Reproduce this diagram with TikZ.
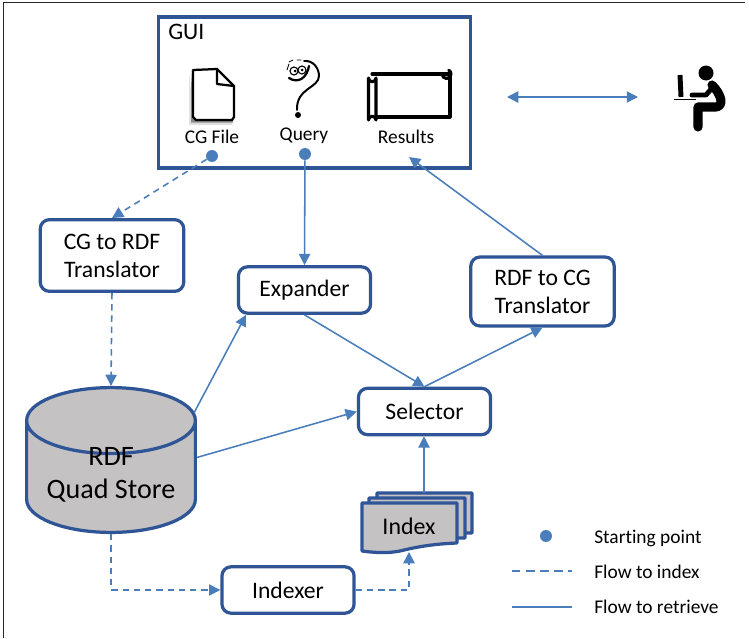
\documentclass[tikz,border=0pt]{standalone}
\usepackage{fontspec}
\setmainfont[Ligatures=NoCommon]{Carlito}
\usetikzlibrary{arrows.meta,shapes.geometric}
\definecolor{boxline}{HTML}{2F5597}
\definecolor{flowline}{HTML}{4A7EBB}
\definecolor{storefill}{HTML}{C4C2C2}
\begin{document}
\begin{tikzpicture}
[x=0.025cm,y=-0.025cm,
module/.style={rectangle,rounded corners=6.5pt,draw=boxline,line width=2.3pt,fill=white,inner sep=0pt,align=center,font=\fontsize{16.8}{20}\selectfont},
label/.style={draw=none,inner sep=0pt,font=\fontsize{13.8}{16}\selectfont},
legend/.style={draw=none,inner sep=0pt,anchor=west,font=\fontsize{13.8}{16}\selectfont},
classical/.style={flowline,line width=1.1pt,-{Triangle[length=8pt,width=8pt]}},
classicaldash/.style={classical,dash pattern=on 4.5pt off 3.5pt},
startdot/.style={circle,fill=flowline,draw=none,minimum size=8.5pt,inner sep=0pt},
sheet/.style={draw=boxline,line width=2.3pt,line join=round,fill=storefill},
icon/.style={black,line width=1.6pt,line cap=round,line join=round}]
\useasboundingbox (0,0) rectangle (749,638);
\fill[white] (0,0) rectangle (749,638);
\draw[black!85,line width=1pt] (3.5,638) -- (3.5,2.5) -- (745,2.5);

% first row
\node[draw=boxline,line width=2.6pt,fill=white,minimum width=222pt,minimum height=107pt,inner sep=0pt] (gui) at (314.5,92.5) {};
\node[draw=none,inner sep=0pt,anchor=west,font=\fontsize{16.8}{20}\selectfont] (guititle) at (168,31.5) {GUI};

% file icon
\fill[black!12] (189,72) -- (189,125) -- (232,125) -- (232,120) -- (194,120) -- cycle;
\fill[black!45] (191,70) -- (191,122.5) -- (233,122.5) -- (233,119) -- (194,119) -- cycle;
\draw[icon,fill=white] (193,70) -- (217,69) -- (234,86) -- (234,117) -- (232,120) -- (196,120) -- (193,117) -- cycle;
\draw[icon] (217,69) -- (217,84) -- (234,86);

% question icon
\draw[icon] (289,78) .. controls (298,84) and (307,78) .. (309,66);
\draw[icon,line width=1.4pt] (304,61) .. controls (313,60) and (319,68) .. (319,76) .. controls (319,88) and (296,88) .. (297,110);
\draw[icon,line width=.8pt,fill=white] (294,71) circle (4) (302,70) circle (4);
\fill[black] (295,71) circle (1.5) (302,70) circle (1.5) (298,115) circle (3);
\draw[icon,line width=.6pt] (289,62) -- (293,60) (297,60) -- (301,60) (287,70) -- (289,64);

% results icon
\draw[icon,line width=2.2pt,fill=white] (372,74) -- (450,74) -- (450,117) -- (376,117);
\draw[icon,line width=2.2pt] (442,74) arc (180:-60:4.5);
\draw[icon,line width=2.2pt,fill=white] (368.5,78) arc (180:0:3.75) -- (376,120) arc (0:-180:3.75) -- cycle;

% person icon
\fill[black] (706,73) circle (7.5);
\draw[black,line width=6.5pt,line cap=round,line join=round] (712,85) .. controls (722,95) and (724,106) .. (716,107) -- (698,107) -- (698,127);
\draw[black,line width=3.5pt,line cap=round,line join=round] (712,88) -- (706,95) -- (692,95);
\draw[black,line width=3.5pt] (680,75) -- (681,97);
\draw[black,line width=1.2pt] (674,99.5) -- (696,99.5);

\node[label] (cgfile) at (212,137) {CG File};
\node[label] (query) at (304,135.5) {Query};
\node[label] (results) at (406,137) {Results};
\node[startdot] (cgdot) at (212,156) {};
\node[startdot] (querydot) at (305,154) {};
\coordinate (resultsend) at (409,157);

\coordinate (guiend) at (507,97);
\coordinate (userend) at (638,97);
\draw[classical,{Triangle[length=8pt,width=8pt]}-{Triangle[length=8pt,width=8pt]}] (guiend) -- (userend);

% second row
\node[module,minimum width=102pt,minimum height=51pt] (cgrdf) at (112,255.5) {CG to RDF\\Translator};
\node[module,minimum width=94pt,minimum height=33pt] (expander) at (304.5,290) {Expander};
\node[module,minimum width=102pt,minimum height=49pt] (rdfcg) at (542.5,291.5) {RDF to CG\\Translator};
\node[module,minimum width=94pt,minimum height=33pt] (selector) at (424.5,411.5) {Selector};

% store
\node[cylinder,shape border rotate=90,aspect=2.9,draw=boxline,line width=2.3pt,fill=storefill,minimum width=120pt,minimum height=103pt,inner sep=0pt,anchor=shape center] (store) at (111,460) {\phantom{RDF}};
\node[draw=none,inner sep=0pt,align=center,font=\fontsize{20}{23.5}\selectfont] (storetext) at (111,474.5) {RDF\\Quad Store};

% index
\path[sheet] (377,493) -- (472,493) -- (472,533) .. controls (450,533) and (440,536) .. (425,540) -- (377,540) -- cycle;
\path[sheet] (369,498) -- (465,498) -- (465,538) .. controls (440,538) and (430,541) .. (415,545) -- (369,545) -- cycle;
\path[sheet] (362,503) -- (457,503) -- (457,543) .. controls (430,544) and (412,548) .. (400,551) .. controls (385,554) and (370,552) .. (362,551) -- cycle;
\node[draw=none,inner sep=0pt,font=\fontsize{17}{20}\selectfont] (index) at (409,526.5) {Index};
\coordinate (indextop) at (424,493);
\coordinate (indexbottom) at (409,552);

% last row
\node[module,minimum width=94pt,minimum height=33pt] (indexer) at (288,590) {Indexer};

\draw[classicaldash] (cgdot) -- (cgrdf.north);
\draw[classical] (querydot) -- (expander.north);
\draw[classical] (rdfcg.north) -- (resultsend);
\draw[classicaldash] (cgrdf.south) -- (store.north);
\draw[classical] (store.38) -- (expander.203.5);
\draw[classical] (expander.south) -- (selector.north);
\draw[classical] (selector.north) -- (rdfcg.south);
\draw[classical] (store.13.2) -- (selector.west);
\draw[classical] (indextop) -- (indextop |- selector.south);
\draw[classicaldash] (store.south) |- (indexer.west);
\draw[classicaldash] (indexer.east) -| (indexbottom);

% legend
\node[startdot] (legenddot) at (546,536) {};
\coordinate (dashstart) at (512,571);
\coordinate (dashend) at (572,571);
\coordinate (solidstart) at (512,607);
\coordinate (solidend) at (572,607);
\draw[flowline,line width=1.1pt,dash pattern=on 6pt off 4pt] (dashstart) -- (dashend);
\draw[flowline,line width=1.1pt] (solidstart) -- (solidend);
\node[legend] (startlabel) at (594,538.5) {Starting point};
\node[legend] (indexlabel) at (594,572) {Flow to index};
\node[legend] (retrievelabel) at (594,607) {Flow to retrieve};

\end{tikzpicture}
\end{document}
